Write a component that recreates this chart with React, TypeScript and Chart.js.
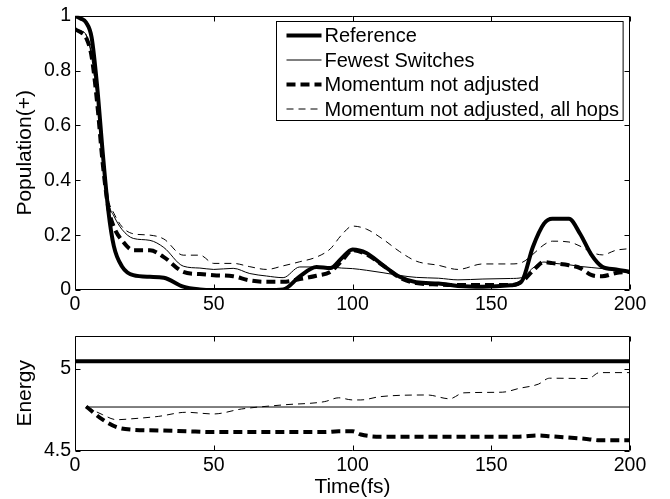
import { useEffect, useRef } from "react";
import { Chart, registerables } from "chart.js";

Chart.register(...registerables);

const FONT = '"Liberation Sans", Arial, Helvetica, sans-serif';

// ---------- data ----------
const seriesLabels = [
  "Reference",
  "Fewest Switches",
  "Momentum not adjusted",
  "Momentum not adjusted, all hops",
];

const popTime = [0, 2, 4, 6, 8, 10, 12, 14, 17, 21, 27, 32, 39, 45, 50, 57, 63, 69, 75, 81, 87, 92, 96, 100, 105, 111, 117, 123, 131, 138, 147, 157, 161, 165, 169, 172, 178, 182, 186, 190, 195, 200];
const popReference = [1.0, 0.99, 0.975, 0.92, 0.74, 0.5, 0.29, 0.16, 0.085, 0.054, 0.048, 0.045, 0.012, 0.002, 0, 0, 0, 0, 0.002, 0.05, 0.084, 0.08, 0.115, 0.148, 0.135, 0.09, 0.048, 0.028, 0.024, 0.015, 0.012, 0.017, 0.032, 0.157, 0.242, 0.26, 0.26, 0.205, 0.13, 0.085, 0.075, 0.066];
const popFewest = [0.95, 0.945, 0.93, 0.86, 0.7, 0.48, 0.32, 0.27, 0.22, 0.188, 0.181, 0.155, 0.087, 0.08, 0.075, 0.079, 0.06, 0.051, 0.045, 0.084, 0.084, 0.084, 0.08, 0.078, 0.072, 0.063, 0.053, 0.046, 0.043, 0.037, 0.04, 0.042, 0.045, 0.08, 0.102, 0.098, 0.092, 0.086, 0.082, 0.078, 0.072, 0.066];
const popMomentum = [0.95, 0.94, 0.92, 0.85, 0.68, 0.46, 0.3, 0.23, 0.18, 0.145, 0.145, 0.12, 0.066, 0.058, 0.054, 0.05, 0.035, 0.03, 0.03, 0.04, 0.052, 0.066, 0.105, 0.145, 0.13, 0.09, 0.045, 0.025, 0.02, 0.018, 0.018, 0.018, 0.03, 0.07, 0.102, 0.098, 0.09, 0.08, 0.055, 0.05, 0.062, 0.066];
const popAllHops = [0.95, 0.945, 0.93, 0.85, 0.68, 0.47, 0.33, 0.28, 0.23, 0.205, 0.2, 0.186, 0.127, 0.127, 0.097, 0.097, 0.085, 0.075, 0.088, 0.103, 0.12, 0.15, 0.2, 0.233, 0.222, 0.185, 0.14, 0.105, 0.09, 0.075, 0.095, 0.095, 0.1, 0.13, 0.165, 0.178, 0.175, 0.16, 0.138, 0.128, 0.145, 0.151];

const energyRefTime = [0, 200];
const energyReference = [5.045, 5.045];
const energyFewestTime = [4, 200];
const energyFewest = [4.767, 4.767];
const energyTime = [4, 10, 15, 20, 30, 40, 50, 60, 75, 90, 95, 100, 103, 110, 127, 135, 140, 154, 160, 167, 171, 185, 189, 200];
const energyMomentum = [4.77, 4.69, 4.645, 4.63, 4.625, 4.62, 4.615, 4.615, 4.615, 4.615, 4.62, 4.62, 4.6, 4.587, 4.587, 4.587, 4.587, 4.587, 4.587, 4.594, 4.59, 4.572, 4.565, 4.565];
const energyAllHops = [4.77, 4.72, 4.69, 4.695, 4.71, 4.735, 4.725, 4.755, 4.78, 4.8, 4.823, 4.81, 4.81, 4.83, 4.84, 4.817, 4.853, 4.857, 4.88, 4.906, 4.942, 4.94, 4.976, 4.976];

const xTicks = [0, 50, 100, 150, 200];
const popTicks = [0, 0.2, 0.4, 0.6, 0.8, 1];
const energyTicks = [4.5, 5];

// ---------- styles ----------
const seriesStyle = [
  { width: 4, dash: [] as number[] },
  { width: 1, dash: [] as number[] },
  { width: 4, dash: [9, 5] },
  { width: 1, dash: [7, 5] },
];

const pts = (t: number[], v: number[]) => t.map((x, i) => ({ x, y: v[i] }));

const mkDataset = (i: number, data: { x: number; y: number }[]) => ({
  label: seriesLabels[i],
  data,
  borderColor: "#000",
  backgroundColor: "#000",
  borderWidth: seriesStyle[i].width,
  borderDash: seriesStyle[i].dash,
  borderCapStyle: "butt" as const,
  borderJoinStyle: "round" as const,
  pointRadius: 0,
  fill: false,
  cubicInterpolationMode: "monotone" as const,
});

const framePlugin = {
  id: "frame",
  afterDatasetsDraw(chart: any) {
    const { ctx, chartArea } = chart;
    const { left, right, top, bottom } = chartArea;
    const xs = chart.scales.x;
    const ys = chart.scales.y;
    const yt: number[] = chart.options.plugins.frame.yTicks;
    ctx.save();
    ctx.setLineDash([]);
    ctx.strokeStyle = "#000";
    ctx.lineWidth = 1;
    const L = Math.round(left) + 0.5;
    const R = Math.round(right) - 0.5;
    const T = Math.round(top) + 0.5;
    const B = Math.round(bottom) - 0.5;
    ctx.beginPath();
    ctx.rect(L, T, R - L, B - T);
    const tl = 5;
    xTicks.forEach((v) => {
      const p = Math.round(xs.getPixelForValue(v)) + 0.5;
      ctx.moveTo(p, B);
      ctx.lineTo(p, B - tl);
      ctx.moveTo(p, T);
      ctx.lineTo(p, T + tl);
    });
    yt.forEach((v) => {
      const p = Math.round(ys.getPixelForValue(v)) + 0.5;
      ctx.moveTo(L, p);
      ctx.lineTo(L + tl, p);
      ctx.moveTo(R, p);
      ctx.lineTo(R - tl, p);
    });
    ctx.stroke();
    ctx.restore();
  },
};

const legendPlugin = {
  id: "insideLegend",
  afterDraw(chart: any) {
    const opts = chart.options.plugins.insideLegend;
    if (!opts || !opts.show) return;
    const { ctx, chartArea } = chart;
    ctx.save();
    ctx.font = `20px ${FONT}`;
    const labels = chart.data.datasets.map((d: any) => d.label);
    const maxW = Math.max(...labels.map((l: string) => ctx.measureText(l).width));
    const lineLen = 35;
    const w = 10 + lineLen + 3 + maxW + 4;
    const h = 99;
    const bx = Math.round(chartArea.right - 7 - w) + 0.5;
    const by = Math.round(chartArea.top + 5) + 0.5;
    ctx.fillStyle = "#fff";
    ctx.fillRect(bx, by, w, h);
    ctx.setLineDash([]);
    ctx.lineWidth = 1;
    ctx.strokeStyle = "#000";
    ctx.strokeRect(bx, by, w, h);
    chart.data.datasets.forEach((d: any, i: number) => {
      const y = by + 14 + i * 24.5;
      ctx.beginPath();
      ctx.lineWidth = d.borderWidth;
      ctx.setLineDash(d.borderDash || []);
      ctx.lineCap = "butt";
      ctx.moveTo(bx + 10, y);
      ctx.lineTo(bx + 10 + lineLen, y);
      ctx.stroke();
      ctx.setLineDash([]);
      ctx.fillStyle = "#000";
      ctx.textBaseline = "middle";
      ctx.textAlign = "left";
      ctx.fillText(d.label, bx + 10 + lineLen + 3, y + 1);
    });
    ctx.restore();
  },
};

const tickFont = { family: FONT, size: 19.5, lineHeight: 1.2 };
const titleFont = { family: FONT, size: 21, lineHeight: 1.2 };

function baseOptions(
  yMin: number,
  yMax: number,
  yTicks: number[],
  yTitle: string,
  xHeight: number,
  padTop: number,
  xTitle: string | null
) {
  return {
    responsive: false,
    animation: false as const,
    layout: { padding: { top: padTop, right: 40, left: 0, bottom: 0 } },
    plugins: {
      legend: { display: false },
      tooltip: { enabled: false },
      frame: { yTicks },
      insideLegend: { show: false },
    },
    scales: {
      x: {
        type: "linear" as const,
        min: 0,
        max: 200,
        grid: { display: false, drawTicks: false },
        border: { display: false },
        afterBuildTicks: (s: any) => {
          s.ticks = xTicks.map((v) => ({ value: v }));
        },
        afterFit: (s: any) => {
          s.height = xHeight;
        },
        ticks: {
          color: "#000",
          font: tickFont,
          padding: 3,
          maxRotation: 0,
          autoSkip: false,
          callback: (v: any) => String(v),
        },
        title: xTitle
          ? { display: true, text: xTitle, color: "#000", font: titleFont, padding: { top: 0, bottom: -1 } }
          : { display: false },
      },
      y: {
        type: "linear" as const,
        min: yMin,
        max: yMax,
        grid: { display: false, drawTicks: false },
        border: { display: false },
        afterBuildTicks: (s: any) => {
          s.ticks = yTicks.map((v) => ({ value: v }));
        },
        afterFit: (s: any) => {
          s.width = 75;
        },
        ticks: {
          color: "#000",
          font: tickFont,
          padding: 4,
          autoSkip: false,
          callback: (v: any) => String(v),
        },
        title: { display: true, text: yTitle, color: "#000", font: titleFont, padding: { top: 13, bottom: 0 } },
      },
    },
  };
}

export default function App() {
  const topRef = useRef<HTMLCanvasElement | null>(null);
  const botRef = useRef<HTMLCanvasElement | null>(null);

  useEffect(() => {
    const topOpts: any = baseOptions(0, 1, popTicks, "Population(+)", 30, 14, null);
    topOpts.plugins.insideLegend = { show: true };
    const top = new Chart(topRef.current as HTMLCanvasElement, {
      type: "line",
      data: {
        datasets: [
          mkDataset(0, pts(popTime, popReference)),
          mkDataset(1, pts(popTime, popFewest)),
          mkDataset(2, pts(popTime, popMomentum)),
          mkDataset(3, pts(popTime, popAllHops)),
        ],
      },
      options: topOpts,
      plugins: [framePlugin, legendPlugin],
    });
    const botOpts: any = baseOptions(4.5, 5.2, energyTicks, "Energy", 48, 15, "Time(fs)");
    const bot = new Chart(botRef.current as HTMLCanvasElement, {
      type: "line",
      data: {
        datasets: [
          mkDataset(0, pts(energyRefTime, energyReference)),
          mkDataset(1, pts(energyFewestTime, energyFewest)),
          mkDataset(2, pts(energyTime, energyMomentum)),
          mkDataset(3, pts(energyTime, energyAllHops)),
        ],
      },
      options: botOpts,
      plugins: [framePlugin],
    });
    return () => {
      top.destroy();
      bot.destroy();
    };
  }, []);

  return (
    <div style={{ position: "absolute", left: 0, top: 0, width: 670, height: 499, background: "#fff" }}>
      <canvas
        ref={topRef}
        width={670}
        height={320}
        style={{ position: "absolute", left: 0, top: 0, width: 670, height: 320 }}
      />
      <canvas
        ref={botRef}
        width={670}
        height={179}
        style={{ position: "absolute", left: 0, top: 320, width: 670, height: 179 }}
      />
    </div>
  );
}
